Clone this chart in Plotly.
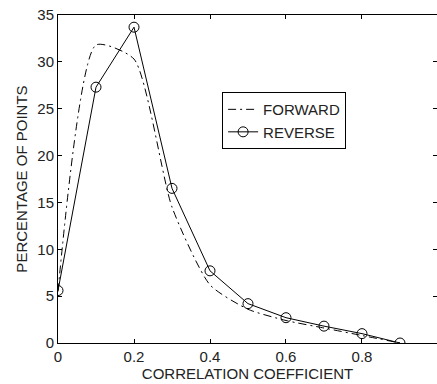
import plotly.graph_objects as go

corr = [0, 0.1, 0.2, 0.3, 0.4, 0.5, 0.6, 0.7, 0.8, 0.9]
forward = [5.5, 31.8, 30.3, 14.5, 6.2, 3.6, 2.4, 1.6, 0.8, 0.0]
reverse = [5.6, 27.3, 33.7, 16.5, 7.7, 4.2, 2.7, 1.8, 1.0, 0.0]
x_ticks = [0, 0.2, 0.4, 0.6, 0.8]
y_ticks = [0, 5, 10, 15, 20, 25, 30, 35]

fig = go.Figure()
fig.add_trace(go.Scatter(
    x=corr, y=forward, name="FORWARD", mode="lines",
    line=dict(color="black", width=1, dash="8px,4px,2px,4px", shape="spline", smoothing=0.6),
))
fig.add_trace(go.Scatter(
    x=corr, y=reverse, name="REVERSE", mode="lines+markers",
    line=dict(color="black", width=1),
    marker=dict(symbol="circle-open", size=10, color="black", line=dict(width=1, color="black")),
))
# right-side inside ticks (box edge falls just outside the image)
fig.add_trace(go.Scatter(x=[0], y=[0], yaxis="y2", mode="none", showlegend=False, hoverinfo="skip"))

font = dict(family="Liberation Sans, Arial, sans-serif", size=15, color="#222")
fig.update_layout(
    width=437, height=384,
    margin=dict(l=58, r=0, t=15, b=41),
    paper_bgcolor="white", plot_bgcolor="white",
    font=font,
    showlegend=True,
    legend=dict(x=0.433, y=0.765, xanchor="left", yanchor="top",
                bordercolor="black", borderwidth=1, bgcolor="white",
                font=font, tracegroupgap=0, itemwidth=30),
    xaxis=dict(range=[0, 0.9974], tickvals=x_ticks, ticktext=["0", "0.2", "0.4", "0.6", "0.8"],
               ticks="inside", ticklen=4, tickcolor="black", showline=True, linecolor="black",
               linewidth=1, mirror="ticks", showgrid=False, zeroline=False,
               tickfont=font,
               title=dict(text="CORRELATION COEFFICIENT", font=font, standoff=2)),
    yaxis=dict(range=[0, 35], tickvals=y_ticks, ticks="inside", ticklen=4, tickcolor="black",
               showline=True, linecolor="black", linewidth=1, showgrid=False, zeroline=False,
               tickfont=font,
               title=dict(text="PERCENTAGE OF POINTS", font=font, standoff=6)),
    yaxis2=dict(range=[0, 35], tickvals=y_ticks, overlaying="y", side="right", ticks="inside",
                ticklen=4, tickcolor="black", showticklabels=False, showline=False,
                showgrid=False, zeroline=False),
)
fig.write_html("out.html")
